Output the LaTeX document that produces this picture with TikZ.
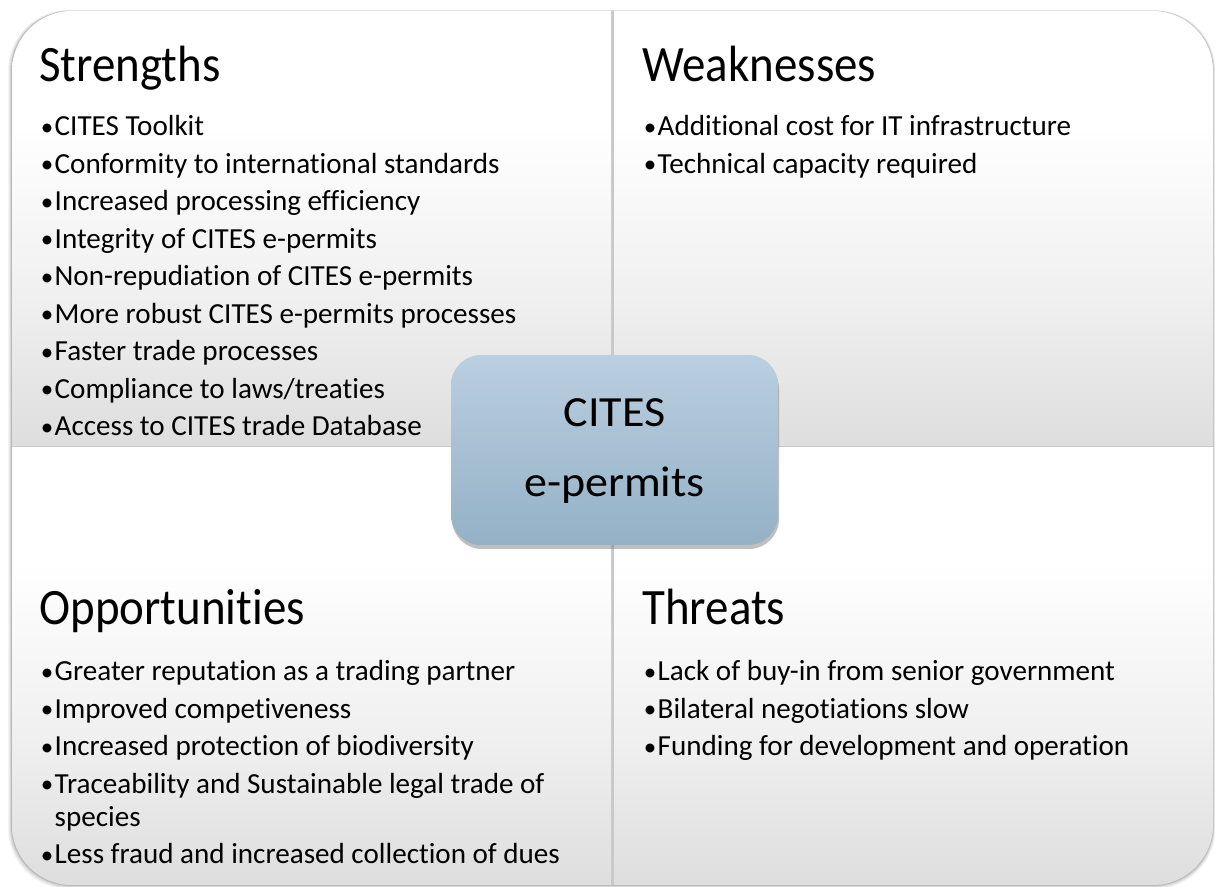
\documentclass[tikz,border=0pt]{standalone}
\usepackage{fontspec}
\setmainfont{Carlito}[Ligatures=NoCommon]
\newfontfamily\headfont{Carlito}[FakeStretch=0.92,Ligatures=NoCommon]
\newfontfamily\hubfont{Carlito}[FakeStretch=1.07,Ligatures=NoCommon]
\usetikzlibrary{shadows}
\definecolor{coreTop}{RGB}{186,207,224}
\definecolor{coreBot}{RGB}{148,177,198}
\definecolor{gapGray}{RGB}{200,200,200}
\pgfdeclareverticalshading{quadfade}{100bp}{color(0bp)=(gray!26); color(25bp)=(gray!26); color(42bp)=(gray!12); color(62bp)=(white); color(100bp)=(white)}
\newcommand{\swot}[2][300pt]{\vtop{\hsize=#1\raggedright\baselineskip=16.5pt\parskip=2.25pt #2\par}}
\newcommand{\itm}[1]{\par\hangindent=6.9pt\hangafter=1\noindent
  \makebox[6.9pt][l]{\raisebox{0.05ex}{\fontsize{12.5}{12.5}\selectfont\textbullet}}#1}

\begin{document}
\begin{tikzpicture}[x=0.5pt,y=0.5pt,
    hub/.style={top color=coreTop,bottom color=coreBot,rounded corners=15pt,
      minimum width=163.5pt,minimum height=95pt,
      drop shadow={shadow xshift=0.5pt,shadow yshift=-2pt,opacity=0.5}},
    hubtext/.style={anchor=base,inner sep=0pt,font=\hubfont\fontsize{21.5}{26}\selectfont},
    head/.style={anchor=base west,inner sep=0pt,font=\headfont\fontsize{25.5}{30}\selectfont},
    list/.style={anchor=base west,inner sep=0pt,font=\fontsize{14.55}{16.5}\selectfont}]
  \useasboundingbox (0,0) rectangle (1215,887);
  % soft shadow round the board
  \foreach \s/\o in {4/0.04,3/0.06,2/0.08,1/0.12}
    \fill[black,opacity=\o,rounded corners=30pt] (12-\s,2-\s) rectangle (1213+\s*0.6,876+\s*0.2);
  \fill[gapGray,rounded corners=30pt] (12,2) rectangle (1213,876);
  % the four quadrants
  \begin{scope}
    \clip[rounded corners=30pt] (12,2) rectangle (1213,876);
    \shade[shading=quadfade] (12,441) rectangle (611,876);
    \shade[shading=quadfade] (614,441) rectangle (1213,876);
    \shade[shading=quadfade] (12,2) rectangle (611,439);
    \shade[shading=quadfade] (614,2) rectangle (1213,439);
  \end{scope}
  % headings
  \node[head] (sTitle) at (39,805) {Strengths};
  \node[head] (wTitle) at (642,805) {Weaknesses};
  \node[head] (oTitle) at (39,262) {Opportunities};
  \node[head] (tTitle) at (642,262) {Threats};
  % bullet lists
  \node[list] (sList) at (40.5,751) {\swot{%
    \itm{CITES Toolkit}
    \itm{Conformity to international standards}
    \itm{Increased processing efficiency}
    \itm{Integrity of CITES e-permits}
    \itm{Non-repudiation of CITES e-permits}
    \itm{More robust CITES e-permits processes}
    \itm{Faster trade processes}
    \itm{Compliance to laws/treaties}
    \itm{Access to CITES trade Database}}};
  \node[list] (wList) at (643.5,751) {\swot[270pt]{%
    \itm{Additional cost for IT infrastructure}
    \itm{Technical capacity required}}};
  \node[list] (oList) at (40.5,206) {\swot{%
    \itm{Greater reputation as a trading partner}
    \itm{Improved competiveness}
    \itm{Increased protection of biodiversity}
    \itm{Traceability and Sustainable legal trade of\hfil\break species}
    \itm{Less fraud and increased collection of dues}}};
  \node[list] (tList) at (643.5,206) {\swot[270pt]{%
    \itm{Lack of buy-in from senior government}
    \itm{Bilateral negotiations slow}
    \itm{Funding for development and operation}}};
  % centre box
  \node[hub] (hub) at (614.5,437) {};
  \node[hubtext] (hubA) at (614.5,460) {CITES};
  \node[hubtext] (hubB) at (614.5,390) {e-permits};
\end{tikzpicture}
\end{document}
